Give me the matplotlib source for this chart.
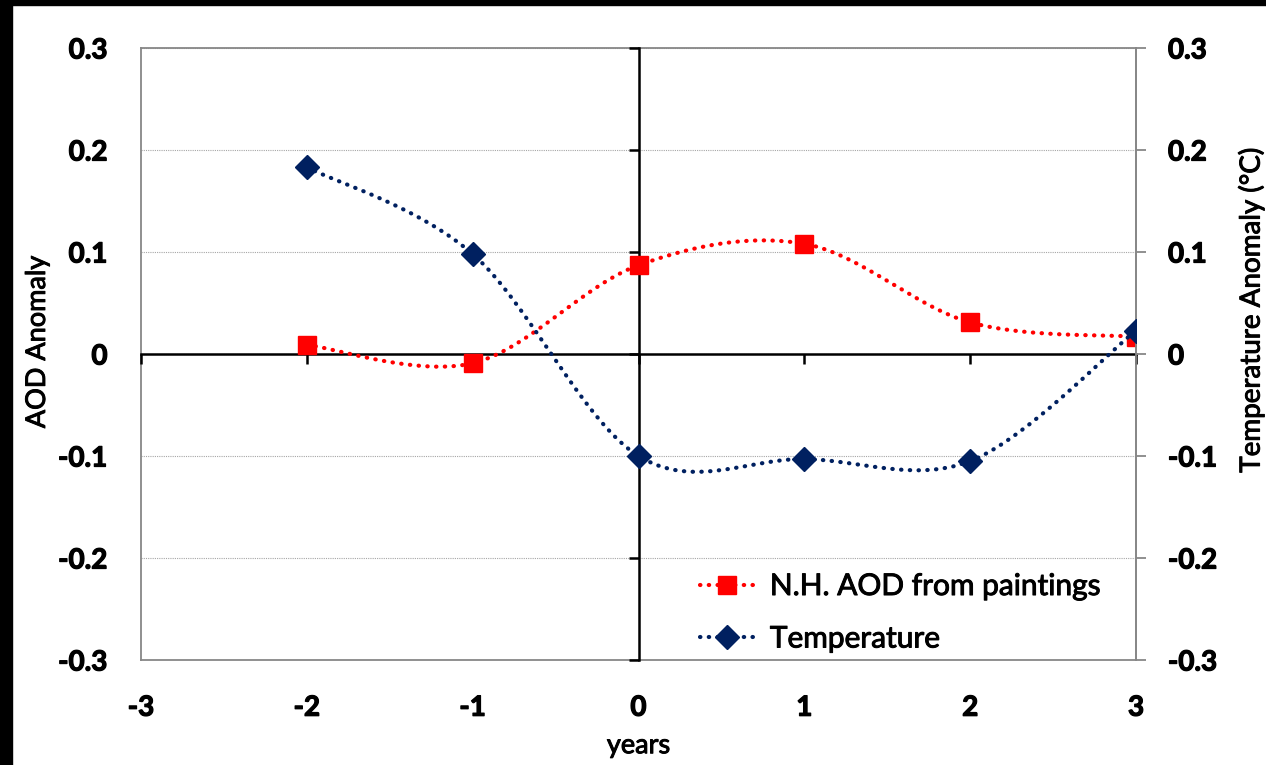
import numpy as np
import matplotlib
matplotlib.use("Agg")
import matplotlib.pyplot as plt
import matplotlib.patheffects as pe
from matplotlib.lines import Line2D
from matplotlib.patches import Rectangle

plt.rcParams['font.family'] = ['Lato', 'DejaVu Sans']

years = [-2, -1, 0, 1, 2, 3]
aod = [0.009, -0.009, 0.087, 0.108, 0.031, 0.017]
temp = [0.183, 0.098, -0.100, -0.103, -0.105, 0.023]
yticks = [-0.3, -0.2, -0.1, 0, 0.1, 0.2, 0.3]
ytick_labels = ['-0.3', '-0.2', '-0.1', '0', '0.1', '0.2', '0.3']
xticks = [-3, -2, -1, 0, 1, 2, 3]
xtick_labels = ['-3', '-2', '-1', '0', '1', '2', '3']
label_aod = 'N.H. AOD from paintings'
label_temp = 'Temperature'

RED = '#FF0000'
NAVY = '#002060'
GRAY = '#878787'
THICK = [pe.withStroke(linewidth=0.7, foreground='black')]
BOLDER = [pe.withStroke(linewidth=0.9, foreground='black')]


def smooth(x, y, n=60):
    """Excel-style smoothed line (cubic Bezier through points)."""
    P = np.column_stack([x, y]).astype(float)
    out = []
    m = len(P)
    for i in range(m - 1):
        p0 = P[i - 1] if i > 0 else P[i]
        p1 = P[i]
        p2 = P[i + 1]
        p3 = P[i + 2] if i + 2 < m else P[i + 1]
        c1 = p1 + (p2 - p0) / 6.0
        c2 = p2 - (p3 - p1) / 6.0
        t = np.linspace(0, 1, n)[:, None]
        seg = ((1 - t) ** 3) * p1 + 3 * ((1 - t) ** 2) * t * c1 + 3 * (1 - t) * t ** 2 * c2 + t ** 3 * p2
        out.append(seg if i == 0 else seg[1:])
    s = np.vstack(out)
    return s[:, 0], s[:, 1]


W, H = 1266, 765
fig = plt.figure(figsize=(W / 100, H / 100), dpi=100)
fig.patch.set_facecolor('white')
fig.patches.append(Rectangle((0, 0), 12 / W, 1, transform=fig.transFigure, color='black', zorder=0))
fig.patches.append(Rectangle((0, 1 - 5 / H), 1, 5 / H, transform=fig.transFigure, color='black', zorder=0))

pos = [141 / W, 1 - 660 / H, (1136 - 141) / W, (660 - 48) / H]
TICKFS = 20

# background frame axes with labels and grid
axl = fig.add_axes(pos)
axl.set_xlim(-3, 3)
axl.set_ylim(-0.3, 0.3)
axl.set_yticks(yticks)
axl.set_yticklabels(ytick_labels, fontweight='bold', fontsize=TICKFS, path_effects=BOLDER)
axl.set_xticks(xticks)
axl.set_xticklabels(xtick_labels, fontweight='bold', fontsize=TICKFS, path_effects=BOLDER)
axl.tick_params(axis='y', length=0, pad=24)
axl.tick_params(axis='x', length=0, pad=25)
for sp in axl.spines.values():
    sp.set_color(GRAY)
    sp.set_linewidth(1.3)
axl.grid(axis='y', linestyle=(0, (1, 1)), color='#a6a6a6', linewidth=0.8)
xl = axl.set_xlabel('years', fontsize=19.5, labelpad=9)
yl = axl.set_ylabel('AOD Anomaly', fontsize=19.5)
xl.set_path_effects(THICK)
yl.set_path_effects(THICK)
axl.yaxis.set_label_coords(-0.0915, 0.52)

# main axes with crossing axes at zero
ax = fig.add_axes(pos)
ax.patch.set_alpha(0)
ax.set_xlim(-3, 3)
ax.set_ylim(-0.3, 0.3)
ax.spines['left'].set_position(('data', 0))
ax.spines['bottom'].set_position(('data', 0))
ax.spines['top'].set_visible(False)
ax.spines['right'].set_visible(False)
ax.spines['left'].set_linewidth(1.8)
ax.spines['bottom'].set_linewidth(1.8)
ax.set_yticks(yticks)
ax.set_xticks(xticks)
ax.tick_params(axis='both', direction='out', length=7, width=1.8, labelleft=False, labelbottom=False)

# right axis
ax2 = ax.twinx()
ax2.set_ylim(-0.3, 0.3)
ax2.set_yticks(yticks)
ax2.set_yticklabels(ytick_labels, fontweight='bold', fontsize=TICKFS, path_effects=BOLDER)
ax2.spines['left'].set_visible(False)
ax2.spines['bottom'].set_visible(False)
ax2.spines['top'].set_visible(False)
ax2.spines['right'].set_color(GRAY)
ax2.spines['right'].set_linewidth(1.3)
ax2.tick_params(axis='y', direction='out', length=7, width=1.3, color=GRAY, pad=16)
rl = ax2.set_ylabel('Temperature Anomaly (°C)', fontsize=20)
rl.set_path_effects(THICK)
ax2.yaxis.set_label_coords(1.1015, 0.572)

dot = (0, (0.1, 2.0))
sx, sy = smooth(years, aod)
ax.plot(sx, sy, color=RED, lw=3, linestyle=dot, dash_capstyle='round', zorder=3)
ax.plot(years, aod, linestyle='none', marker='s', markersize=13.5, color=RED, zorder=4)

tx, ty = smooth(years, temp)
ax2.plot(tx, ty, color=NAVY, lw=3, linestyle=dot, dash_capstyle='round', zorder=3)
ax2.plot(years, temp, linestyle='none', marker='D', markersize=12, color=NAVY, zorder=4)

h1 = Line2D([], [], color=RED, lw=3, linestyle=dot, dash_capstyle='round', marker='s', markersize=13.5)
h2 = Line2D([], [], color=NAVY, lw=3, linestyle=dot, dash_capstyle='round', marker='D', markersize=12)
leg = ax2.legend([h1, h2], [label_aod, label_temp], loc='center left', bbox_to_anchor=(0.5615, 0.078),
                 frameon=False, handlelength=1.8, handletextpad=0.55, labelspacing=0.82,
                 borderpad=0, borderaxespad=0, prop={'size': 21.5})
for t in leg.get_texts():
    t.set_path_effects(THICK)

fig.savefig('out.png', dpi=100)
